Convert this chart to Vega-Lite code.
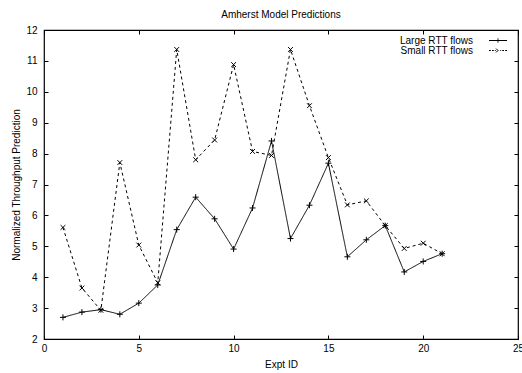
{
  "$schema": "https://vega.github.io/schema/vega-lite/v6.json",
  "width": 474,
  "height": 309,
  "autosize": {"type": "none"},
  "padding": {"left": 44, "top": 30, "right": 4, "bottom": 34},
  "background": "white",
  "title": {"text": "Amherst Model Predictions", "fontSize": 10, "fontWeight": "normal", "font": "Liberation Sans", "color": "black", "offset": 5},
  "config": {
    "font": "Liberation Sans",
    "view": {"stroke": "black", "strokeWidth": 1.2},
    "axis": {"domain": false, "grid": false, "tickColor": "black", "tickSize": -4, "tickWidth": 1, "labelColor": "black", "labelFontSize": 10, "labelFont": "Liberation Sans", "labelFlush": false, "labelOverlap": false, "titleColor": "black", "titleFontSize": 10, "titleFont": "Liberation Sans", "titleFontWeight": "normal"}
  },
  "data": {"values": [
    {"x": 1, "series": "Large RTT flows", "v": 2.70},
    {"x": 2, "series": "Large RTT flows", "v": 2.87},
    {"x": 3, "series": "Large RTT flows", "v": 2.95},
    {"x": 4, "series": "Large RTT flows", "v": 2.80},
    {"x": 5, "series": "Large RTT flows", "v": 3.16},
    {"x": 6, "series": "Large RTT flows", "v": 3.75},
    {"x": 7, "series": "Large RTT flows", "v": 5.54},
    {"x": 8, "series": "Large RTT flows", "v": 6.59},
    {"x": 9, "series": "Large RTT flows", "v": 5.89},
    {"x": 10, "series": "Large RTT flows", "v": 4.91},
    {"x": 11, "series": "Large RTT flows", "v": 6.24},
    {"x": 12, "series": "Large RTT flows", "v": 8.41},
    {"x": 13, "series": "Large RTT flows", "v": 5.25},
    {"x": 14, "series": "Large RTT flows", "v": 6.33},
    {"x": 15, "series": "Large RTT flows", "v": 7.69},
    {"x": 16, "series": "Large RTT flows", "v": 4.66},
    {"x": 17, "series": "Large RTT flows", "v": 5.21},
    {"x": 18, "series": "Large RTT flows", "v": 5.67},
    {"x": 19, "series": "Large RTT flows", "v": 4.17},
    {"x": 20, "series": "Large RTT flows", "v": 4.51},
    {"x": 21, "series": "Large RTT flows", "v": 4.76},
    {"x": 1, "series": "Small RTT flows", "v": 5.61},
    {"x": 2, "series": "Small RTT flows", "v": 3.65},
    {"x": 3, "series": "Small RTT flows", "v": 2.93},
    {"x": 4, "series": "Small RTT flows", "v": 7.71},
    {"x": 5, "series": "Small RTT flows", "v": 5.04},
    {"x": 6, "series": "Small RTT flows", "v": 3.82},
    {"x": 7, "series": "Small RTT flows", "v": 11.37},
    {"x": 8, "series": "Small RTT flows", "v": 7.80},
    {"x": 9, "series": "Small RTT flows", "v": 8.44},
    {"x": 10, "series": "Small RTT flows", "v": 10.88},
    {"x": 11, "series": "Small RTT flows", "v": 8.07},
    {"x": 12, "series": "Small RTT flows", "v": 7.94},
    {"x": 13, "series": "Small RTT flows", "v": 11.37},
    {"x": 14, "series": "Small RTT flows", "v": 9.55},
    {"x": 15, "series": "Small RTT flows", "v": 7.87},
    {"x": 16, "series": "Small RTT flows", "v": 6.34},
    {"x": 17, "series": "Small RTT flows", "v": 6.47},
    {"x": 18, "series": "Small RTT flows", "v": 5.67},
    {"x": 19, "series": "Small RTT flows", "v": 4.93},
    {"x": 20, "series": "Small RTT flows", "v": 5.10},
    {"x": 21, "series": "Small RTT flows", "v": 4.76}
  ]},
  "layer": [
    {
      "mark": {"type": "line", "color": "black", "strokeWidth": 1},
      "encoding": {
        "x": {"field": "x", "type": "quantitative", "scale": {"domain": [0, 25], "nice": false, "zero": false},
              "axis": {"orient": "bottom", "values": [0, 5, 10, 15, 20, 25], "title": "Expt ID", "labelPadding": 8, "titlePadding": 6}},
        "y": {"field": "v", "type": "quantitative", "scale": {"domain": [2, 12], "nice": false, "zero": false},
              "axis": {"orient": "left", "values": [2, 3, 4, 5, 6, 7, 8, 9, 10, 11, 12], "title": "Normalized Throughput Prediction", "labelPadding": 11, "titlePadding": 4}},
        "strokeDash": {"field": "series", "type": "nominal",
          "scale": {"domain": ["Large RTT flows", "Small RTT flows"], "range": [[1, 0], [3, 3]]},
          "legend": {
            "title": null, "orient": "none", "legendX": 449, "legendY": 5.5,
            "labelAlign": "right", "labelOffset": -30, "labelFontSize": 10, "labelColor": "black", "labelFont": "Liberation Sans",
            "symbolSize": 36, "symbolStrokeColor": "black", "symbolStrokeWidth": 1, "symbolFillColor": "transparent",
            "rowPadding": -0.5, "padding": 0,
            "encode": {"symbols": {"update": {
              "shape": {"signal": "datum.value === 'Large RTT flows' ? 'M-3,0L3,0M0,-0.7L0,0.7' : 'M-3,0L-2.4,0M-2,0L-1.4,0M-1.05,0L-0.75,0M-0.65,-0.65L0.65,0.65M-0.65,0.65L0.65,-0.65M0.75,0L1.05,0M1.4,0L2,0M2.4,0L3,0'"},
              "strokeDash": {"value": [1, 0]}
            }}}
          }}
      }
    },
    {
      "transform": [{"filter": "datum.series === 'Large RTT flows'"}],
      "mark": {"type": "point", "filled": false, "stroke": "black", "strokeWidth": 1, "size": 36, "opacity": 1, "shape": "M-1,0L1,0M0,-1L0,1"},
      "encoding": {
        "x": {"field": "x", "type": "quantitative", "axis": {"orient": "top", "values": [0, 5, 10, 15, 20, 25], "labels": false, "title": null}},
        "y": {"field": "v", "type": "quantitative", "axis": {"orient": "right", "values": [2, 3, 4, 5, 6, 7, 8, 9, 10, 11, 12], "labels": false, "title": null}}
      }
    },
    {
      "transform": [{"filter": "datum.series === 'Small RTT flows'"}],
      "mark": {"type": "point", "filled": false, "stroke": "black", "strokeWidth": 1, "size": 36, "opacity": 1, "shape": "M-0.8,-0.8L0.8,0.8M-0.8,0.8L0.8,-0.8"},
      "encoding": {
        "x": {"field": "x", "type": "quantitative", "axis": null},
        "y": {"field": "v", "type": "quantitative", "axis": null}
      }
    }
  ],
  "resolve": {"axis": {"x": "independent", "y": "independent"}}
}
